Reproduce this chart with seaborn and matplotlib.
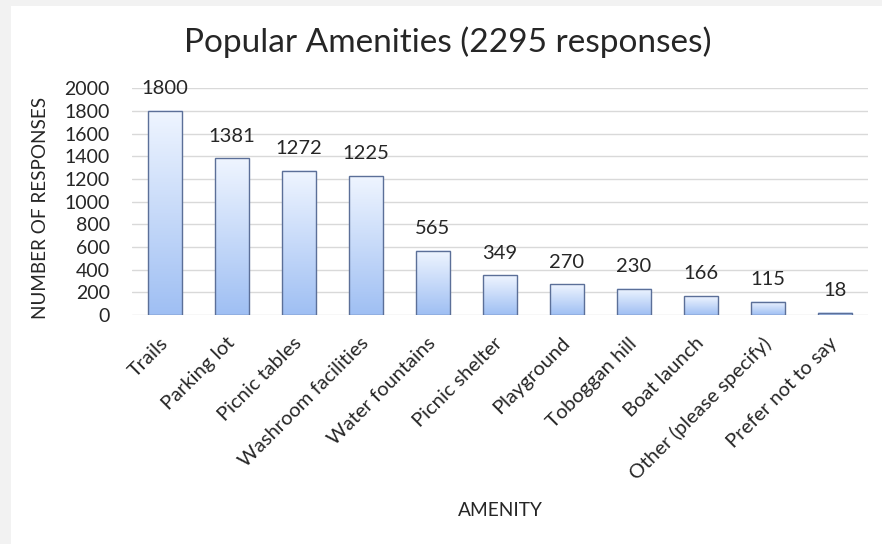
import matplotlib
matplotlib.use("Agg")
import matplotlib.pyplot as plt
import matplotlib.patches as mpatches
import matplotlib.transforms as mtransforms
from matplotlib.colors import LinearSegmentedColormap
import numpy as np
import pandas as pd
import seaborn as sns

categories = ["Trails", "Parking lot", "Picnic tables", "Washroom facilities",
              "Water fountains", "Picnic shelter", "Playground", "Toboggan hill",
              "Boat launch", "Other (please specify)", "Prefer not to say"]
responses = [1800, 1381, 1272, 1225, 565, 349, 270, 230, 166, 115, 18]
y_ticks = [0, 200, 400, 600, 800, 1000, 1200, 1400, 1600, 1800, 2000]
title = "Popular Amenities (2295 responses)"

df = pd.DataFrame({"Amenity": categories, "Responses": responses})

sns.set_theme(style="white")
plt.rcParams['font.family'] = ['Lato', 'DejaVu Sans']

fig = plt.figure(figsize=(8.82, 5.44), dpi=100, facecolor="#f2f2f2")
fig.patches.append(mpatches.Rectangle((11/882, 0), 1, (544-6)/544,
                                      transform=fig.transFigure, facecolor="white",
                                      edgecolor="none", zorder=-10))
ax_h = 315 - 88.3
ax_w = 868.5 - 131.5
ax = fig.add_axes([131.5/882, (544-315)/544, ax_w/882, ax_h/544])
ax.set_facecolor("none")

sns.barplot(data=df, x="Amenity", y="Responses", ax=ax, width=0.51,
            color="#a4c2f4", edgecolor="#5b6f98", linewidth=1.0, zorder=3)

ax.set_ylim(0, 2000)
ax.set_xlim(-0.5, len(categories) - 0.5)
ax.set_autoscale_on(False)

cmap = LinearSegmentedColormap.from_list("g", ["#9fbff3", "#eff5ff"])
grad = np.linspace(0, 1, 256).reshape(-1, 1)
for p in ax.patches:
    x0, w, h = p.get_x(), p.get_width(), p.get_height()
    p.set_facecolor("none")
    ax.imshow(grad, extent=[x0, x0 + w, 0, h], origin="lower", aspect="auto",
              cmap=cmap, zorder=2.5, interpolation="bilinear")
    ax.annotate(f"{int(round(h))}", (x0 + w / 2, h), xytext=(0, 16),
                textcoords="offset points", ha="center", va="center",
                fontsize=14.5, color="#262626")

ax.set_yticks(y_ticks)
ax.yaxis.grid(True, color="#d9d9d9", linewidth=1.0, zorder=0)
ax.xaxis.grid(False)
for s in ax.spines.values():
    s.set_visible(False)
ax.tick_params(axis="y", length=0, pad=15.5, labelsize=14, labelcolor="#262626")
ax.tick_params(axis="x", length=0, pad=14, labelsize=14.5, labelcolor="#262626")
offset = mtransforms.ScaledTranslation(-6 / 100, 0, fig.dpi_scale_trans)
for lab in ax.get_xticklabels():
    lab.set_rotation(45)
    lab.set_ha("right")
    lab.set_rotation_mode("anchor")
    lab.set_transform(lab.get_transform() + offset)

ax.set_xlabel("AMENITY", fontsize=13.8, color="#262626")
ax.set_ylabel("NUMBER OF RESPONSES", fontsize=13.6, color="#262626")
ax.xaxis.set_label_coords(0.5, -(510 - 315) / ax_h)
ax.yaxis.set_label_coords(-(131.5 - 40) / ax_w, (315 - 208) / ax_h)
ax.xaxis.label.set_va("center")
ax.yaxis.label.set_va("center")

fig.text(448 / 882, 1 - 42 / 544, title, ha="center", va="center",
         fontsize=24, color="#262626")

fig.savefig("out.png", dpi=100, facecolor=fig.get_facecolor())
